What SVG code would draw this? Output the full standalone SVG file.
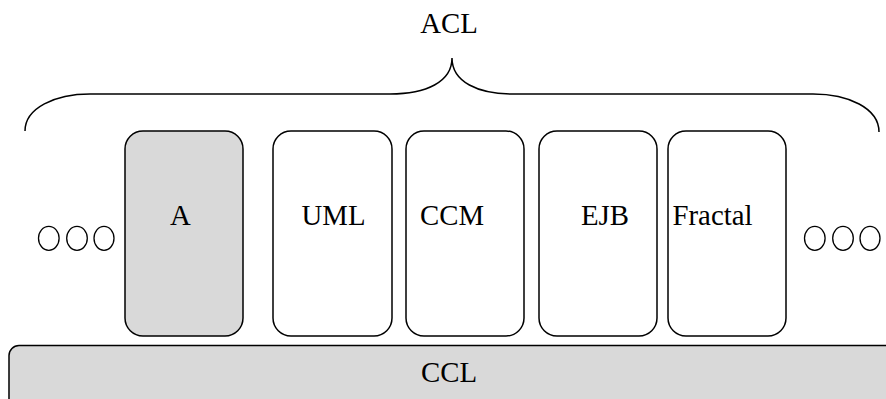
<svg xmlns="http://www.w3.org/2000/svg" width="886" height="399" viewBox="0 0 886 399">
<style>
text{font-family:'Liberation Serif','Times New Roman',serif;font-size:28.8px;fill:#000;text-anchor:middle}
.box{fill:#fff;stroke:#000;stroke-width:1.5}
.grey{fill:#d9d9d9;stroke:#000;stroke-width:1.5}
.dot{fill:none;stroke:#000;stroke-width:1.3}
.brace{fill:none;stroke:#000;stroke-width:1.5}
</style>
<rect width="886" height="399" fill="#fff"/>
<g id="acl">
<path class="brace" d="M25,131 C25,108 55,94 90,94 L390,94 C426,94 452,82 452,58 C452,82 478,94 513,94 L813,94 C848,94 879,108 879,132"/>
<text x="449" y="33">ACL</text>
</g>
<g id="ccl">
<rect class="grey" x="9" y="345.5" width="900" height="70" rx="10"/>
<text x="449" y="381.5">CCL</text>
</g>
<g id="node-a">
<rect class="grey" x="125" y="131" width="118" height="205" rx="18"/>
<text x="180.5" y="225">A</text>
</g>
<g id="node-uml">
<rect class="box" x="273" y="131" width="119" height="205" rx="18"/>
<text x="333.5" y="225">UML</text>
</g>
<g id="node-ccm">
<rect class="box" x="406" y="131" width="118" height="205" rx="18"/>
<text x="452" y="225">CCM</text>
</g>
<g id="node-ejb">
<rect class="box" x="539" y="131" width="118" height="205" rx="18"/>
<text x="605" y="225">EJB</text>
</g>
<g id="node-fractal">
<rect class="box" x="668" y="131" width="118" height="205" rx="18"/>
<text x="712.5" y="225">Fractal</text>
</g>
<g id="dots-left">
<ellipse class="dot" cx="48.8" cy="238.3" rx="10.3" ry="12"/>
<ellipse class="dot" cx="77" cy="238.3" rx="10.3" ry="12"/>
<ellipse class="dot" cx="104" cy="238.3" rx="10" ry="12"/>
</g>
<g id="dots-right">
<ellipse class="dot" cx="814.8" cy="238.3" rx="10.3" ry="12"/>
<ellipse class="dot" cx="843" cy="238.3" rx="10.3" ry="12"/>
<ellipse class="dot" cx="870" cy="238.3" rx="10" ry="12"/>
</g>
<g id="connectors"></g>
</svg>
